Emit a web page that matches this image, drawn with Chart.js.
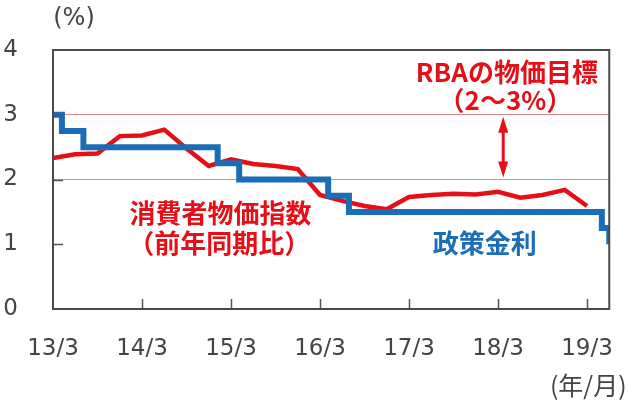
<!DOCTYPE html>
<html>
<head>
<meta charset="utf-8">
<script src="https://cdn.jsdelivr.net/npm/chart.js@4/dist/chart.umd.min.js"></script>
<style>
  html, body { margin: 0; padding: 0; background: #fff; }
  #wrap { width: 640px; height: 406px; }
</style>
</head>
<body>
<div id="wrap"><canvas id="rba-chart"></canvas></div>
<script>
// x = months since 2013/3
const tickLabels = ['13/3', '14/3', '15/3', '16/3', '17/3', '18/3', '19/3']
const yTicks = [0, 1, 2, 3, 4]

// CPI (quarterly, y/y %)
const cpiMonths = [0, 3, 6, 9, 12, 15, 18, 21, 24, 27, 30, 33, 36, 39, 42, 45, 48, 51, 54, 57, 60, 63, 66, 69, 72]
const cpiValues = [2.33, 2.39, 2.40, 2.67, 2.68, 2.77, 2.48, 2.21, 2.31, 2.24, 2.21, 2.16, 1.76, 1.67, 1.59, 1.54, 1.73, 1.76, 1.78, 1.77, 1.81, 1.72, 1.76, 1.84, 1.59]

// policy rate (change points)
const policyMonths = [0, 1.2, 4.1, 22.2, 25.1, 37.1, 39.9, 74, 75]
const policyRates = [3.0, 2.75, 2.5, 2.25, 2.0, 1.75, 1.5, 1.25, 1.0]

const RED = '#e60f18'
const BLUE = '#1b6db6'
const GREY = '#444'

const annotations = {
    texts: [
        { text: 'RBAの物価目標', x: 61.2, y: 3.66, color: RED },
        { text: '（2～3%）', x: 61, y: 3.23, color: RED },
        { text: '消費者物価指数', x: 22.6, y: 1.48, color: RED },
        { text: '（前年同期比）', x: 22.4, y: 1.02, color: RED },
        { text: '政策金利', x: 58.2, y: 1.02, color: BLUE },
    ],
    arrow: { x: 60.7, from: 3, to: 2 }
}

const decorPlugin = {
    id: 'decor',
    afterDatasetsDraw(chart) {
        const { ctx, chartArea: a, scales: { x, y } } = chart
        ctx.save()
        // inner tick marks
        ctx.strokeStyle = '#555'
        ctx.lineWidth = 1.5
        ctx.beginPath()
        yTicks.slice(1, -1).forEach(v => {
            const py = Math.round(y.getPixelForValue(v)) + 0.5
            ctx.moveTo(a.left, py); ctx.lineTo(a.left + 10, py)
        })
        tickLabels.forEach((_, i) => {
            if (i === 0) return
            const px = Math.round(x.getPixelForValue(i * 12)) + 0.5
            ctx.moveTo(px, a.bottom); ctx.lineTo(px, a.bottom - 10)
        })
        ctx.stroke()
        // frame
        ctx.strokeStyle = '#4a4a4a'
        ctx.lineWidth = 2
        ctx.strokeRect(a.left, a.top, a.right - a.left, a.bottom - a.top)

        // arrow
        const ar = annotations.arrow
        const ax = x.getPixelForValue(ar.x)
        const y1 = y.getPixelForValue(ar.from) + 2
        const y2 = y.getPixelForValue(ar.to) - 2
        ctx.strokeStyle = RED
        ctx.fillStyle = RED
        ctx.lineWidth = 3
        ctx.beginPath()
        ctx.moveTo(ax, y1 + 12); ctx.lineTo(ax, y2 - 12)
        ctx.stroke()
        ctx.beginPath()
        ctx.moveTo(ax, y1); ctx.lineTo(ax - 5, y1 + 16); ctx.lineTo(ax + 5, y1 + 16); ctx.closePath()
        ctx.moveTo(ax, y2); ctx.lineTo(ax - 5, y2 - 16); ctx.lineTo(ax + 5, y2 - 16); ctx.closePath()
        ctx.fill()

        // labels
        ctx.textAlign = 'center'
        ctx.textBaseline = 'middle'
        ctx.font = 'bold 26px "Noto Sans CJK JP"'
        annotations.texts.forEach(t => {
            ctx.fillStyle = t.color
            ctx.fillText(t.text, x.getPixelForValue(t.x), y.getPixelForValue(t.y))
        })

        // axis units
        ctx.fillStyle = GREY
        ctx.font = '24px "DejaVu Sans"'
        ctx.fillText('(%)', a.left + 21, a.top - 31)
        ctx.font = '25px "Noto Sans CJK JP"'
        ctx.fillText('(年/月)', a.right - 21, a.bottom + 76)
        ctx.restore()
    }
}

const chartConfig = {
    type: 'line',
    data: {
        datasets: [
            {
                label: '政策金利',
                data: policyMonths.map((m, i) => ({ x: m, y: policyRates[i] })),
                borderColor: BLUE,
                borderWidth: 6,
                stepped: true,
                pointRadius: 0,
                order: 1
            },
            {
                label: '消費者物価指数',
                data: cpiMonths.map((m, i) => ({ x: m, y: cpiValues[i] })),
                borderColor: RED,
                borderWidth: 4.5,
                tension: 0,
                pointRadius: 0,
                order: 2
            }
        ]
    },
    options: {
        responsive: true,
        maintainAspectRatio: false,
        animation: false,
        layout: { padding: { top: 50, right: 29, left: 0, bottom: 0 } },
        plugins: {
            legend: { display: false },
            tooltip: { enabled: false }
        },
        scales: {
            x: {
                type: 'linear',
                min: 0,
                max: 75,
                afterFit: s => { s.height = 97 },
                afterBuildTicks: s => { s.ticks = tickLabels.map((_, i) => ({ value: i * 12 })) },
                grid: { display: false, drawTicks: false },
                border: { display: false },
                ticks: {
                    padding: 26,
                    color: GREY,
                    font: { family: 'DejaVu Sans', size: 23 },
                    maxRotation: 0,
                    autoSkip: false,
                    callback: v => tickLabels[v / 12]
                }
            },
            y: {
                min: 0,
                max: 4,
                afterFit: s => { s.width = 53 },
                grid: {
                    drawTicks: false,
                    lineWidth: 1,
                    color: c => (c.tick.value === 2 || c.tick.value === 3) ? 'rgba(200,40,40,0.55)' : 'rgba(0,0,0,0)'
                },
                border: { display: false },
                ticks: {
                    stepSize: 1,
                    padding: 35,
                    color: GREY,
                    font: { family: 'DejaVu Sans', size: 23 }
                }
            }
        }
    },
    plugins: [decorPlugin]
}

new Chart(document.querySelector('#rba-chart'), chartConfig)
</script>
</body>
</html>
